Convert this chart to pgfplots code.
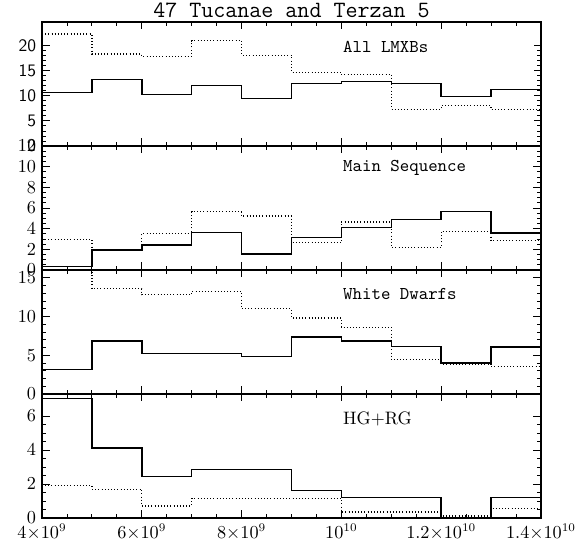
\documentclass[border=0pt]{standalone}
\usepackage{pgfplots}
\pgfplotsset{compat=1.18}
\usepgfplotslibrary{groupplots}
\usetikzlibrary{calc}
\tikzset{lab/.style={anchor=west, inner sep=0pt, font=\ttfamily\fontsize{10.8}{12}\selectfont}}
\begin{document}
\begin{tikzpicture}
\begin{groupplot}[
  group style={group size=1 by 4, vertical sep=0pt, xticklabels at=edge bottom},
  width=299.4pt, height=74.4pt, scale only axis,
  xmin=4, xmax=14,
  xtick={4,6,...,14},
  minor x tick num=3,
  tick align=inside,
  major tick length=4.5pt, minor tick length=2.4pt,
  axis line style={line width=1pt},
  every tick/.style={black, line width=0.5pt},
  tick label style={font=\fontsize{10.5}{12}\selectfont},
  xticklabels={$4{\times}10^9$, $6{\times}10^9$, $8{\times}10^9$, $10^{10}$, $1.2{\times}10^{10}$, $1.4{\times}10^{10}$},
  hist/.style={black, line width=0.85pt, const plot mark left, mark=none},
  dots/.style={black, line width=0.75pt, const plot mark left, mark=none, dash pattern=on 0.6pt off 1.3pt},
]
% all LMXBs
\nextgroupplot[ymin=0, ymax=24.7, ytick={0,5,10,15,20}, minor y tick num=4,
  yticklabels={0,5,10,15,20}, yticklabel style={font=\sffamily\fontsize{10.5}{12}\selectfont}]
\addplot[hist] coordinates {(4,10.7) (5,13.3) (6,10.3) (7,12.0) (8,9.5) (9,12.4) (10,12.9) (11,12.4) (12,9.9) (13,11.2) (14,11.2)};
\addplot[dots] coordinates {(4,22.3) (5,18.3) (6,17.9) (7,21.0) (8,18.1) (9,14.7) (10,14.3) (11,7.3) (12,8.0) (13,7.2) (14,7.2)};
\node[lab] at (rel axis cs:0.603,0.80) {All LMXBs};
% main sequence
\nextgroupplot[ymin=0, ymax=12, ytick={0,2,...,12}, minor y tick num=3]
\addplot[hist] coordinates {(4,0.35) (5,1.95) (6,2.4) (7,3.63) (8,1.56) (9,3.17) (10,4.09) (11,4.87) (12,5.68) (13,3.6) (14,3.6)};
\addplot[dots] coordinates {(4,2.95) (5,2.0) (6,3.5) (7,5.65) (8,5.22) (9,2.63) (10,4.64) (11,2.2) (12,3.76) (13,2.85) (14,2.85)};
\node[lab] at (rel axis cs:0.603,0.82) {Main Sequence};
% white dwarfs
\nextgroupplot[ymin=0, ymax=16, ytick={0,5,10,15}, minor y tick num=4]
\addplot[hist] coordinates {(4,3.19) (5,6.85) (6,5.26) (7,5.26) (8,4.87) (9,7.33) (10,6.85) (11,6.12) (12,4.0) (13,6.08) (14,6.08)};
\addplot[dots] coordinates {(4,17.5) (5,13.6) (6,12.8) (7,13.2) (8,11.0) (9,9.8) (10,8.6) (11,4.44) (12,3.88) (13,3.53) (14,3.53)};
\node[lab] at (rel axis cs:0.603,0.81) {White Dwarfs};
% HG + RG
\nextgroupplot[ymin=0, ymax=7.3, ytick={0,2,4,6}, minor y tick num=3]
\addplot[hist] coordinates {(4,7.03) (5,4.11) (6,2.44) (7,2.85) (8,2.85) (9,1.63) (10,1.2) (11,1.2) (12,0) (13,1.2) (14,1.2)};
\addplot[dots] coordinates {(4,1.91) (5,1.69) (6,0.71) (7,1.16) (8,1.16) (9,1.16) (10,0.35) (11,0.35) (12,0.12) (13,0.55) (14,0.55)};
\node[lab, font=\fontsize{10.8}{12}\selectfont] at (rel axis cs:0.603,0.80) {HG+RG};
\end{groupplot}
\node[anchor=base, font=\ttfamily\fontsize{14}{16}\selectfont] at ($(group c1r1.north)+(0,2.6pt)$) {47 Tucanae and Terzan 5};
\pgfresetboundingbox
\useasboundingbox ($(group c1r1.north west)+(-25.2pt,13.2pt)$) rectangle ($(group c1r4.south east)+(26.4pt,-16.2pt)$);
\end{tikzpicture}
\end{document}
